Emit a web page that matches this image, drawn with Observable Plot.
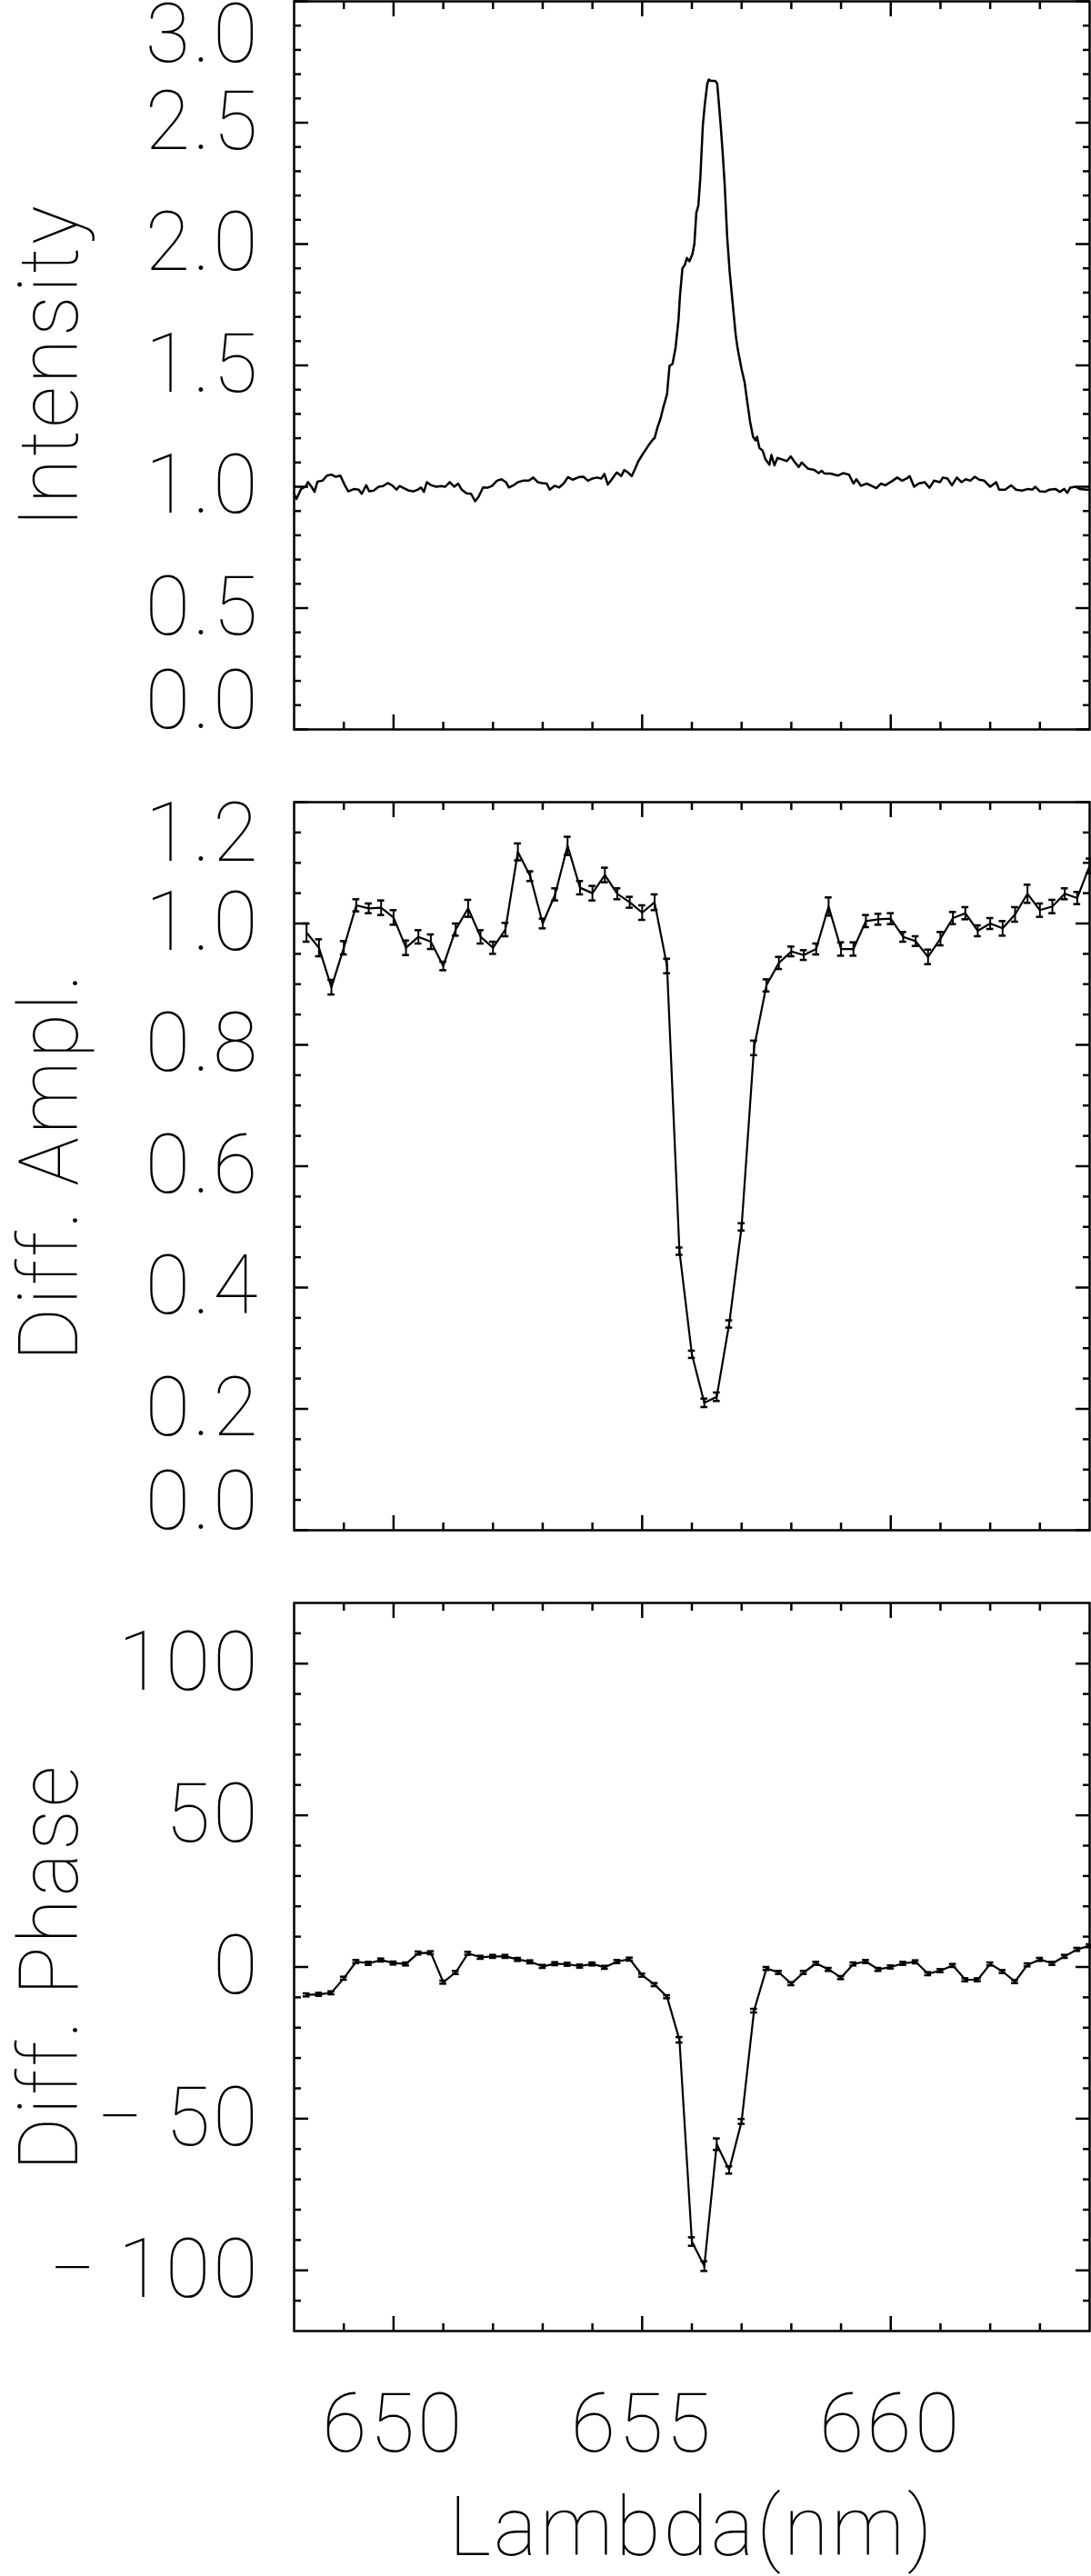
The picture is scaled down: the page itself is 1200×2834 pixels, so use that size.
<!DOCTYPE html>
<html>
<head>
<meta charset="utf-8">
<script src="https://cdn.jsdelivr.net/npm/d3@7"></script>
<script src="https://cdn.jsdelivr.net/npm/@observablehq/plot@0.6"></script>
<style>
html, body { margin: 0; padding: 0; background: #fff; overflow: hidden; }
#chart svg { display: block; }
#chart svg text { letter-spacing: 3px; }
#chart g[aria-label="ytitle"] text { letter-spacing: 4px; }
#chart g[aria-label="xtitle"] text { letter-spacing: 7px; }
</style>
</head>
<body>
<div id="chart"></div>
<script>
// ---------- Panel 1: Intensity spectrum ----------
const lambdaI = [
648.00,648.05,648.14,648.23,648.28,648.35,648.41,648.47,648.57,648.66,648.75,648.84,648.93,649.02,649.09,649.21,649.30,649.36,649.45,649.51,
649.60,649.70,649.79,649.88,649.97,650.06,650.12,650.21,650.31,650.40,650.49,650.55,650.61,650.67,650.76,650.86,650.95,651.04,651.13,651.22,
651.30,651.37,651.47,651.56,651.64,651.71,651.80,651.89,651.98,652.08,652.17,652.26,652.32,652.41,652.50,652.60,652.72,652.81,652.90,652.99,
653.08,653.14,653.24,653.33,653.42,653.51,653.60,653.73,653.82,653.91,654.00,654.09,654.18,654.24,654.31,654.40,654.49,654.58,654.64,654.73,
654.79,654.86,654.92,655.01,655.13,655.22,655.25,655.31,655.37,655.43,655.50,
655.55,655.61,655.67,655.73,655.76,655.81,655.86,655.90,655.95,656.01,656.05,656.09,656.13,656.17,656.22,656.26,656.31,656.34,656.39,656.47,
656.51,656.58,656.62,656.66,656.71,656.76,656.82,656.88,656.92,657.00,
657.06,657.11,657.17,657.23,657.28,657.31,657.36,657.42,657.48,657.56,657.60,657.66,657.72,657.81,657.91,657.99,658.06,658.15,658.21,658.33,
658.46,658.55,658.61,658.67,658.79,658.94,659.04,659.16,659.25,659.31,659.40,659.52,659.62,659.71,659.80,659.89,660.01,660.13,660.23,660.32,
660.38,660.47,660.56,660.68,660.78,660.87,660.99,661.05,661.14,661.23,661.33,661.42,661.51,661.60,661.69,661.78,661.88,662.00,662.12,662.18,
662.30,662.42,662.52,662.64,662.76,662.85,662.91,663.00,663.10,663.19,663.31,663.40,663.49,663.55,663.61,663.71,663.80,663.95,664.00
];
const intensity = [
0.971,0.950,0.991,1.000,1.019,1.000,0.979,1.021,1.025,1.046,1.050,1.041,1.046,1.006,0.981,0.991,0.988,0.971,1.006,0.981,
0.984,1.000,1.003,1.015,1.006,0.988,1.003,0.994,0.984,0.981,0.988,0.997,0.979,1.019,1.006,1.000,1.003,1.000,1.019,1.000,
1.013,0.988,0.973,0.971,0.940,0.959,0.997,0.996,1.003,1.025,1.031,1.019,0.997,1.006,1.019,1.025,1.025,1.038,1.019,1.015,
1.013,0.988,1.004,0.997,1.013,1.040,1.029,1.040,1.041,1.025,1.034,1.038,1.034,1.053,1.009,1.034,1.059,1.044,1.069,1.056,
1.044,1.075,1.104,1.134,1.171,1.196,1.200,1.246,1.281,1.331,1.381,
1.498,1.506,1.570,1.685,1.785,1.900,1.915,1.943,1.929,1.958,2.000,2.130,2.158,2.273,2.488,2.575,2.661,2.678,2.672,2.672,
2.661,2.488,2.374,2.245,2.029,1.886,1.757,1.628,1.570,1.484,
1.431,1.356,1.269,1.206,1.191,1.206,1.159,1.150,1.113,1.091,1.131,1.088,1.119,1.113,1.106,1.125,1.104,1.081,1.100,1.075,
1.069,1.056,1.066,1.054,1.054,1.046,1.056,1.050,1.013,1.031,1.004,1.013,1.003,0.994,1.013,1.006,1.021,1.038,1.025,1.034,
1.044,1.000,1.013,1.019,0.996,1.025,1.019,1.038,1.034,1.006,1.038,1.019,1.031,1.025,1.041,1.029,1.025,1.000,1.019,0.988,
0.988,1.006,0.988,0.984,0.991,0.988,1.000,0.981,0.979,0.988,0.991,0.979,0.991,0.975,0.996,1.000,0.991,0.988,0.988
];

// ---------- Panels 2 & 3: differential amplitude and phase ----------
const lambdaD = [
648.25,648.50,648.75,649.00,649.25,649.50,649.75,650.00,650.25,650.50,650.75,651.00,651.25,651.50,651.75,652.00,
652.25,652.50,652.75,653.00,653.25,653.50,653.75,654.00,654.25,654.50,654.75,655.00,655.25,655.50,655.75,656.00,
656.25,656.50,656.75,657.00,657.25,657.50,657.75,658.00,658.25,658.50,658.75,659.00,659.25,659.50,659.75,660.00,
660.25,660.50,660.75,661.00,661.25,661.50,661.75,662.00,662.25,662.50,662.75,663.00,663.25,663.50,663.75,664.00
];
const amplitude = [
0.985,0.960,0.895,0.960,1.030,1.025,1.026,1.010,0.960,0.978,0.970,0.930,0.990,1.025,0.978,0.960,
0.990,1.118,1.078,1.000,1.048,1.128,1.059,1.050,1.080,1.049,1.035,1.018,1.035,0.930,0.460,0.290,
0.210,0.220,0.340,0.500,0.795,0.898,0.935,0.954,0.948,0.958,1.028,0.958,0.958,1.004,1.007,1.008,
0.978,0.971,0.945,0.975,1.009,1.017,0.988,1.000,0.992,1.015,1.049,1.022,1.028,1.049,1.042,1.095
];
const amplitudeErr = [
0.015,0.014,0.012,0.011,0.010,0.008,0.012,0.012,0.012,0.011,0.012,0.007,0.010,0.014,0.011,0.010,
0.011,0.014,0.008,0.008,0.010,0.015,0.011,0.012,0.012,0.009,0.009,0.012,0.013,0.012,0.006,0.006,
0.007,0.007,0.006,0.006,0.012,0.010,0.010,0.008,0.008,0.009,0.015,0.011,0.011,0.010,0.009,0.009,
0.008,0.008,0.012,0.011,0.010,0.010,0.009,0.009,0.012,0.012,0.015,0.011,0.011,0.009,0.010,0.012
];
const phase = [
-9.2,-9.0,-8.5,-3.7,1.8,1.2,2.3,1.3,1.0,4.6,4.7,-5.0,-1.8,4.5,3.2,3.5,
3.5,2.5,1.7,0.2,1.1,0.9,0.3,1.0,-0.1,1.8,2.6,-2.7,-5.8,-9.8,-24.0,-90.5,
-98.6,-58.4,-66.9,-50.9,-14.4,-0.5,-1.8,-5.5,-1.8,1.2,-0.8,-3.5,1.0,1.8,-0.8,0.0,
1.2,1.7,-2.2,-1.2,0.5,-4.2,-4.2,1.0,-1.5,-4.8,0.7,2.5,1.2,3.5,5.8,7.0
];
const phaseErr = [
0.5,0.5,0.5,0.5,0.5,0.5,0.5,0.5,0.5,0.5,0.5,0.5,0.5,0.5,0.5,0.5,
0.5,0.5,0.5,0.5,0.5,0.5,0.5,0.5,0.5,0.5,0.5,0.5,0.5,0.5,0.9,1.4,
1.6,1.9,1.2,0.8,0.6,0.5,0.5,0.5,0.5,0.5,0.5,0.5,0.5,0.5,0.5,0.5,
0.5,0.5,0.5,0.5,0.5,0.5,0.5,0.5,0.5,0.5,0.5,0.5,0.5,0.5,0.5,0.5
];

// ---------- Axis ticks and labels ----------
const xDomain = [648, 664];
const xMajor = [650, 655, 660];
const xMinor = [649, 651, 652, 653, 654, 656, 657, 658, 659, 661, 662, 663];
const intensityTicks = [0, 0.5, 1.0, 1.5, 2.0, 2.5, 3.0];
const amplitudeTicks = [0, 0.2, 0.4, 0.6, 0.8, 1.0, 1.2];
const phaseTicks = [-100, -50, 0, 50, 100];
const titles = ["Intensity", "Diff. Ampl.", "Diff. Phase"];
const xTitle = "Lambda(nm)";

// ---------- Build ----------
const FONT = "Roboto, Lato, 'DejaVu Sans', sans-serif";
const FS = 90;
const SW = 2.5;
const style = {fontFamily: FONT, fontSize: FS + "px", fontWeight: "100", background: "white", color: "black", overflow: "visible"};

const intensityData = lambdaI.map((x, i) => ({x, v: intensity[i]}));
const ampData = lambdaD.map((x, i) => ({x, v: amplitude[i], e: amplitudeErr[i]}));
const phaseData = lambdaD.map((x, i) => ({x, v: phase[i], e: phaseErr[i]}));

function frameAndTicks(yMajor, yMinor) {
  const t = {stroke: "black", strokeWidth: SW, fill: "none", label: null, tickFormat: () => ""};
  return [
    Plot.frame({stroke: "black", strokeWidth: SW}),
    Plot.axisX({...t, anchor: "bottom", ticks: xMajor, tickSize: -16}),
    Plot.axisX({...t, anchor: "bottom", ticks: xMinor, tickSize: -8}),
    Plot.axisX({...t, anchor: "top", ticks: xMajor, tickSize: -16}),
    Plot.axisX({...t, anchor: "top", ticks: xMinor, tickSize: -8}),
    Plot.axisY({...t, anchor: "left", ticks: yMajor, tickSize: -16}),
    Plot.axisY({...t, anchor: "left", ticks: yMinor, tickSize: -8}),
    Plot.axisY({...t, anchor: "right", ticks: yMajor, tickSize: -16}),
    Plot.axisY({...t, anchor: "right", ticks: yMinor, tickSize: -8})
  ];
}
function yLabels(ticks, fmt, clampEnds, topShift) {
  const base = {anchor: "left", tickSize: 0, tickPadding: 37, tickFormat: fmt, label: null, fill: "black"};
  if (!clampEnds) return [Plot.axisY({...base, ticks})];
  const inner = ticks.slice(1, -1);
  return [
    Plot.axisY({...base, ticks: inner}),
    Plot.axisY({...base, ticks: [ticks[ticks.length - 1]], dy: topShift}),
    Plot.axisY({...base, ticks: [ticks[0]], dy: -30})
  ];
}
function yTitle(t) {
  return Plot.text([t], {frameAnchor: "left", dx: -302, rotate: -90, textAnchor: "middle", lineAnchor: "top", fill: "black", ariaLabel: "ytitle"});
}
function errorBars(data, w) {
  return [
    Plot.ruleX(data, {x: "x", y1: d => d.v - d.e, y2: d => d.v + d.e, stroke: "black", strokeWidth: 2}),
    Plot.ruleY(data, {y: d => d.v + d.e, x1: d => d.x - w, x2: d => d.x + w, stroke: "black", strokeWidth: 2.5}),
    Plot.ruleY(data, {y: d => d.v - d.e, x1: d => d.x - w, x2: d => d.x + w, stroke: "black", strokeWidth: 2.5})
  ];
}
const f1 = d3.format(".1f");
const fPhase = d => d < 0 ? "\u2212\u2009" + Math.abs(d) : String(d);

const p1 = Plot.plot({
  width: 1200, height: 842, marginLeft: 323, marginRight: 2, marginTop: 1, marginBottom: 40,
  style,
  x: {domain: xDomain},
  y: {domain: [0, 3]},
  marks: [
    ...frameAndTicks(intensityTicks, d3.range(1, 30).filter(i => i % 5).map(i => i / 10)),
    ...yLabels(intensityTicks, f1, true, 38),
    yTitle(titles[0]),
    Plot.line(intensityData, {x: "x", y: "v", stroke: "black", strokeWidth: 2.5})
  ]
});

const p2 = Plot.plot({
  width: 1200, height: 881, marginLeft: 323, marginRight: 2, marginTop: 40, marginBottom: 40,
  style,
  x: {domain: xDomain},
  y: {domain: [0, 1.2]},
  marks: [
    ...frameAndTicks(amplitudeTicks, d3.range(1, 24).filter(i => i % 4).map(i => i / 20)),
    ...yLabels(amplitudeTicks, f1, true, 36),
    yTitle(titles[1]),
    ...errorBars(ampData, 0.07),
    Plot.line(ampData, {x: "x", y: "v", stroke: "black", strokeWidth: 2.2})
  ]
});

const p3 = Plot.plot({
  width: 1200, height: 1111, marginLeft: 323, marginRight: 2, marginTop: 40, marginBottom: 270,
  style,
  x: {domain: xDomain},
  y: {domain: [-120, 120]},
  marks: [
    ...frameAndTicks(phaseTicks, d3.range(-11, 12).filter(i => i % 5).map(i => i * 10)),
    ...yLabels(phaseTicks, fPhase, false),
    yTitle(titles[2]),
    Plot.axisX({anchor: "bottom", ticks: xMajor, tickSize: 0, tickPadding: 69, tickFormat: d => String(d), label: null, fill: "black"}),
    Plot.text([xTitle], {frameAnchor: "bottom", dy: 246, lineAnchor: "bottom", fill: "black", ariaLabel: "xtitle"}),
    ...errorBars(phaseData, 0.07),
    Plot.line(phaseData, {x: "x", y: "v", stroke: "black", strokeWidth: 2.2})
  ]
});

const chart = document.getElementById("chart");
chart.append(p1, p2, p3);
</script>
</body>
</html>
